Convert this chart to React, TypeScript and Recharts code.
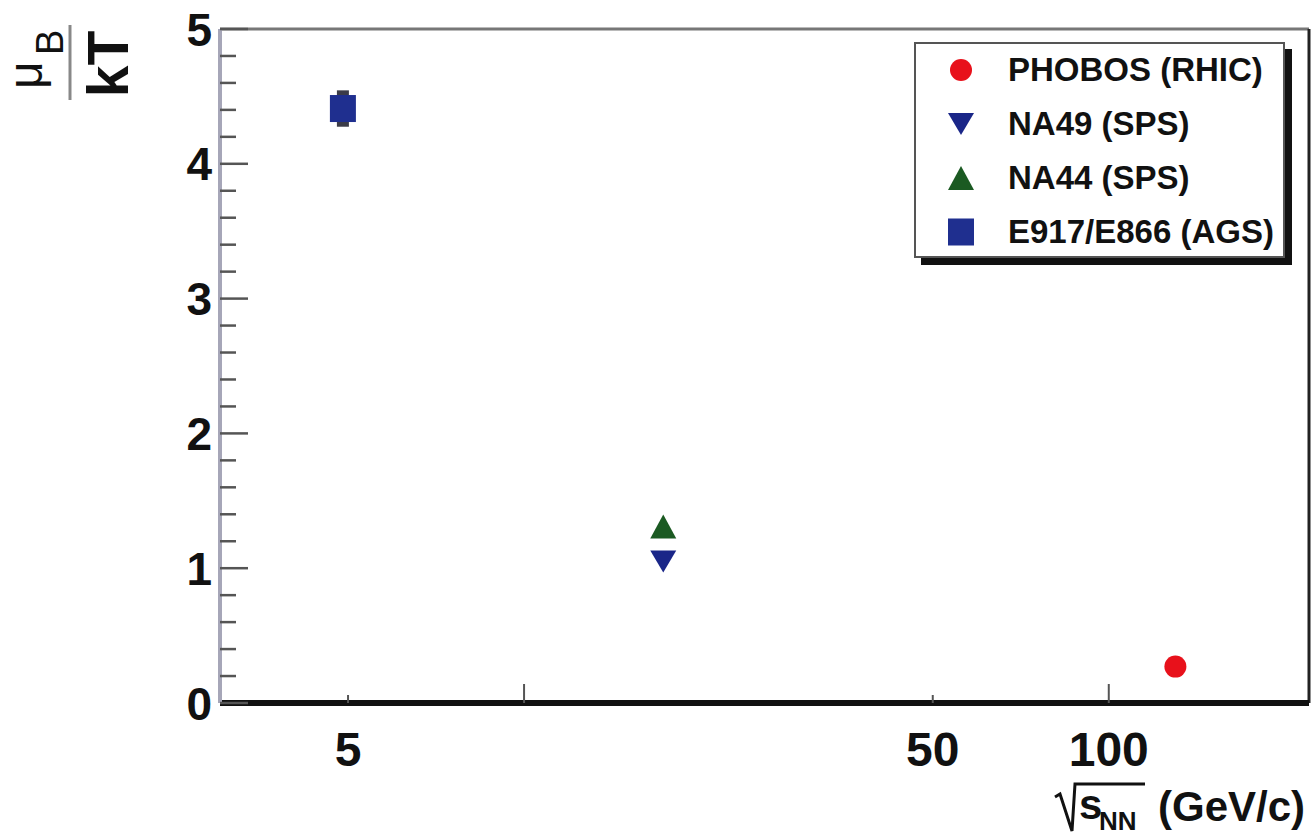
import { ScatterChart, Scatter, XAxis, YAxis, ErrorBar, ReferenceLine, Legend } from 'recharts'

// Baryochemical potential over temperature vs. collision energy
const seriesNames = ['PHOBOS (RHIC)', 'NA49 (SPS)', 'NA44 (SPS)', 'E917/E866 (AGS)']
const seriesColors = ['#e8111b', '#1a2688', '#1b5a22', '#1f2f8f']
const seriesMarkers = ['circle', 'triangleDown', 'triangleUp', 'square']
const sqrtS = [130, 17.3, 17.3, 4.9]
const muOverT = [0.27, 1.05, 1.31, 4.41]
const muErr = [0, 0, 0, 0.135]

const xTicks = [5, 10, 50, 100]
const xLabels = [5, 50, 100]
const yTicks = [
  0, 0.2, 0.4, 0.6, 0.8, 1, 1.2, 1.4, 1.6, 1.8, 2, 2.2, 2.4, 2.6, 2.8, 3, 3.2, 3.4, 3.6, 3.8, 4, 4.2,
  4.4, 4.6, 4.8, 5,
]

const FONT = '"Liberation Sans", Arial, Helvetica, sans-serif'

function Marker({ type, cx, cy, color }: { type: string; cx: number; cy: number; color: string }) {
  if (type === 'circle') return <circle cx={cx} cy={cy} r={11} fill={color} />
  if (type === 'triangleDown')
    return <path d={`M${cx - 13},${cy - 11} L${cx + 13},${cy - 11} L${cx},${cy + 11} Z`} fill={color} />
  if (type === 'triangleUp')
    return <path d={`M${cx - 13},${cy + 12} L${cx + 13},${cy + 12} L${cx},${cy - 12} Z`} fill={color} />
  return <rect x={cx - 13} y={cy - 13.5} width={26} height={27} fill={color} />
}

function XTick(props: any) {
  const { x, y, payload } = props
  const axisY = y - 27
  const decade = payload.value === 10 || payload.value === 100
  return (
    <g>
      <line x1={x} x2={x} y1={axisY} y2={axisY - (decade ? 19 : 8)} stroke="#555" strokeWidth={2} />
      {xLabels.includes(payload.value) && (
        <text x={x} y={y + 36} textAnchor="middle" fontFamily={FONT} fontWeight="bold" fontSize={48} fill="#111">
          {payload.value}
        </text>
      )}
    </g>
  )
}

function YTick(props: any) {
  const { x, y, payload } = props
  const major = Number.isInteger(payload.value)
  const axisX = x + 8
  return (
    <g>
      <line x1={axisX} x2={axisX + (major ? 28 : 16)} y1={y} y2={y} stroke="#555" strokeWidth={2.5} />
      {major && (
        <text x={x} y={y} dy="0.36em" textAnchor="end" fontFamily={FONT} fontWeight="bold" fontSize={46} fill="#111">
          {payload.value}
        </text>
      )}
    </g>
  )
}

function LegendBox() {
  return (
    <div
      style={{
        width: 371,
        height: 216,
        boxSizing: 'border-box',
        border: '2px solid #555',
        background: '#fff',
        boxShadow: '7px 7px 0 #111',
        fontFamily: FONT,
      }}
    >
      {seriesNames.map((name, i) => (
        <div key={name} style={{ height: 54, display: 'flex', alignItems: 'center', marginTop: i === 0 ? -1 : 0 }}>
          <svg width={92} height={54} style={{ flex: 'none' }}>
            <Marker type={seriesMarkers[i]} cx={45} cy={27} color={seriesColors[i]} />
          </svg>
          <span style={{ fontSize: 33, fontWeight: 'bold', color: '#111', whiteSpace: 'nowrap' }}>{name}</span>
        </div>
      ))}
    </div>
  )
}

export default function App() {
  const data = seriesNames.map((_, i) => [{ x: sqrtS[i], y: muOverT[i], err: muErr[i] }])

  return (
    <div style={{ position: 'absolute', left: 0, top: 0, width: 1313, height: 838, background: '#fff' }}>
      <ScatterChart width={1313} height={838} margin={{ top: 29, right: 4, bottom: 75, left: 160 }}>
        <XAxis
          type="number"
          dataKey="x"
          scale="log"
          domain={[3.02, 220]}
          allowDataOverflow
          ticks={xTicks}
          interval={0}
          height={60}
          tickSize={0}
          tickMargin={27}
          tick={<XTick />}
          axisLine={{ stroke: '#111', strokeWidth: 6 }}
        />
        <YAxis
          type="number"
          dataKey="y"
          domain={[0, 5]}
          ticks={yTicks}
          interval={0}
          width={60}
          tickSize={0}
          tickMargin={8}
          tick={<YTick />}
          axisLine={{ stroke: '#a6a6b8', strokeWidth: 4 }}
        />
        <ReferenceLine y={5} stroke="#777" strokeWidth={3} />
        <ReferenceLine x={220} stroke="#222" strokeWidth={3} />
        {seriesNames.map((name, i) => (
          <Scatter
            key={name}
            name={name}
            data={data[i]}
            fill={seriesColors[i]}
            isAnimationActive={false}
            shape={(p: any) => <Marker type={seriesMarkers[i]} cx={p.cx} cy={p.cy} color={seriesColors[i]} />}
          >
            {muErr[i] > 0 && (
              <ErrorBar dataKey="err" direction="y" width={0} strokeWidth={12} stroke="#3b3b48" />
            )}
          </Scatter>
        ))}
        <Legend
          layout="vertical"
          align="center"
          verticalAlign="middle"
          content={<LegendBox />}
          wrapperStyle={{ left: 914, top: 42, width: 378, height: 224 }}
        />
      </ScatterChart>

      {/* axis titles */}
      <svg width={1313} height={838} style={{ position: 'absolute', left: 0, top: 0, pointerEvents: 'none' }}>
        <g fontFamily={FONT} fill="#111">
          <text transform="translate(128,64) rotate(-90)" textAnchor="middle" fontWeight="bold" fontSize={57}>
            kT
          </text>
          <line x1={70} x2={70} y1={25} y2={100} stroke="#888" strokeWidth={3} />
          <text transform="translate(42,89) rotate(-90)" fontSize={48}>
            μ
          </text>
          <text transform="translate(63,55) rotate(-90)" fontSize={38}>
            B
          </text>

          <path d="M1055,797 L1060,794 L1072,831 L1075,784 L1145,784" fill="none" stroke="#111" strokeWidth={3} />
          <text x={1079} y={819} fontWeight="bold" fontSize={42}>
            s
          </text>
          <text x={1099} y={830} fontWeight="bold" fontSize={26}>
            NN
          </text>
          <text x={1158} y={821} fontWeight="bold" fontSize={42}>
            (GeV/c)
          </text>
        </g>
      </svg>
    </div>
  )
}
